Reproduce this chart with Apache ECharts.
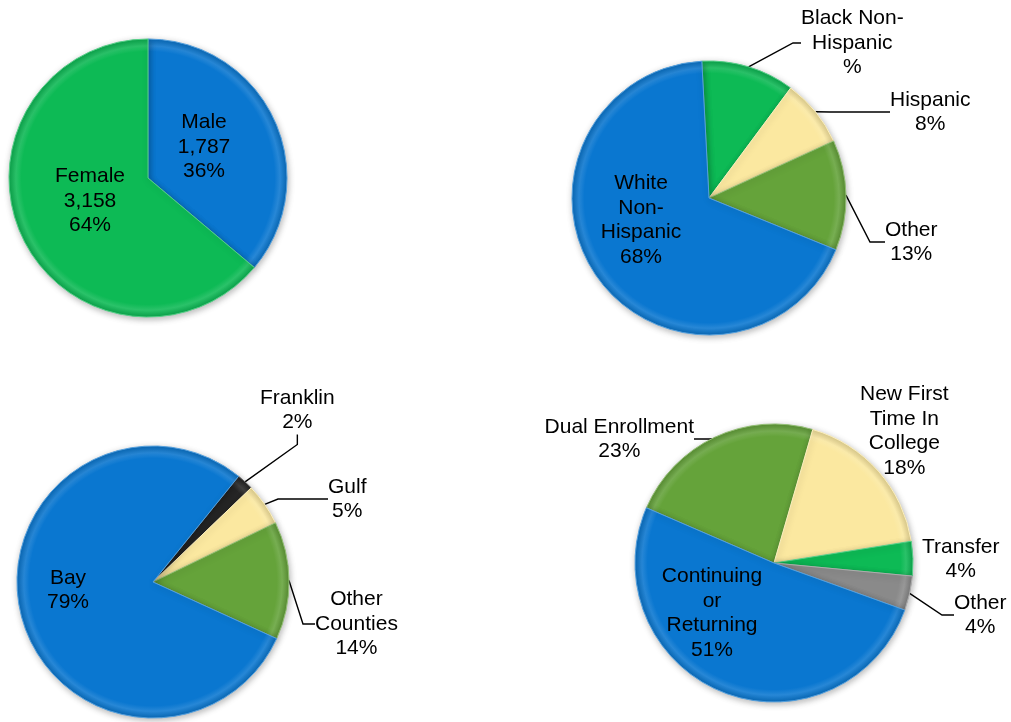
<!DOCTYPE html>
<html>
<head>
<meta charset="utf-8">
<script src="https://cdn.jsdelivr.net/npm/echarts@6/dist/echarts.min.js"></script>
<style>
    html, body { margin: 0; padding: 0; background: #fff; }
    #chart { width: 1011px; height: 722px; }
</style>
</head>
<body>
<div id="chart"></div>
<script>
// gender headcount
const genderLabels = ['Male', 'Female'];
const genderCounts = [1787, 3158];
const genderPct = ['36%', '64%'];

// ethnicity (the black slice label shows no number in the source)
const ethnicLabels = ['Black Non-\nHispanic', 'Hispanic', 'Other', 'White\nNon-\nHispanic'];
const ethnicValues = [11, 8, 13, 68];
const ethnicPct = ['%', '8%', '13%', '68%'];

// county
const countyLabels = ['Franklin', 'Gulf', 'Other\nCounties', 'Bay'];
const countyValues = [2, 5, 14, 79];
const countyPct = ['2%', '5%', '14%', '79%'];

// student type
const typeLabels = ['Dual Enrollment', 'New First\nTime In\nCollege', 'Transfer', 'Other', 'Continuing\nor\nReturning'];
const typeValues = [23, 18, 4, 4, 51];
const typePct = ['23%', '18%', '4%', '4%', '51%'];

const BLUE = '#0a77d0';
const GREEN = '#0dba55';
const YELLOW = '#fbe8a0';
const OLIVE = '#65a33a';
const BLACK = '#262626';
const GRAY = '#8a8a8a';

function shade(hex, f) {
    const n = parseInt(hex.slice(1), 16);
    let rgb = [(n >> 16) & 255, (n >> 8) & 255, n & 255];
    rgb = rgb.map(v => f < 0 ? Math.round(v * (1 + f)) : Math.round(v + (255 - v) * f));
    return 'rgb(' + rgb.join(',') + ')';
}

function richText(lines) {
    return lines.join('\n').split('\n').map(s => '{c|' + s + '}').join('\n');
}

const chartDom = document.getElementById('chart');
const myChart = echarts.init(chartDom, null, { renderer: 'canvas' });

// layout of the four pies and where their labels sit (offset from pie centre)
const pies = [
    {
        center: [148, 178], radius: 139, startAngle: 90,
        labels: genderLabels, values: genderCounts, colors: [BLUE, GREEN],
        text: (i) => richText([genderLabels[i], genderCounts[i].toLocaleString('en-US'), genderPct[i]]),
        inside: [true, true],
        spots: [[56, -31], [-58, 23]],
        length2: [0, 0]
    },
    {
        center: [709, 198], radius: 137, startAngle: 93,
        labels: ethnicLabels, values: ethnicValues, colors: [GREEN, YELLOW, OLIVE, BLUE],
        text: (i) => richText([ethnicLabels[i], ethnicPct[i]]),
        inside: [false, false, false, true],
        spots: [[92, -155], [181, -86], [176, 44], [-68, 22]],
        length2: [8, 60, 15, 0]
    },
    {
        center: [153, 582], radius: 136, startAngle: 51,
        labels: countyLabels, values: countyValues, colors: [BLACK, YELLOW, OLIVE, BLUE],
        text: (i) => richText([countyLabels[i], countyPct[i]]),
        inside: [false, false, false, true],
        spots: [[107, -172], [175, -83], [162, 42], [-85, 8]],
        length2: [10, 50, 12, 0]
    },
    {
        center: [774, 563], radius: 139, startAngle: 156.6,
        labels: typeLabels, values: typeValues, colors: [OLIVE, YELLOW, GREEN, GRAY, BLUE],
        text: (i) => richText([typeLabels[i], typePct[i]]),
        inside: [false, false, false, false, true],
        noLine: [false, true, true, false, false],
        spots: [[-80, -124], [86, -132], [148, -4], [180, 52], [-62, 50]],
        length2: [40, 0, 0, 12, 0]
    }
];

const series = pies.map((p) => {
    const [cx, cy] = p.center;
    return {
        type: 'pie',
        center: p.center,
        radius: p.radius,
        startAngle: p.startAngle,
        clockwise: true,
        avoidLabelOverlap: false,
        animation: false,
        silent: true,
        label: {
            show: true,
            color: '#000',
            fontFamily: 'Liberation Sans, Arial, sans-serif',
            fontSize: 21,
            lineHeight: 24.5,
            rich: {
                c: { align: 'center', fontFamily: 'Liberation Sans, Arial, sans-serif', fontSize: 21, lineHeight: 24.5, color: '#000' }
            }
        },
        labelLine: {
            show: true,
            length: 10,
            length2: 10,
            lineStyle: { color: '#000', width: 1.4 }
        },
        labelLayout: function (params) {
            const s = p.spots[params.dataIndex];
            return { x: cx + s[0], y: cy + s[1] };
        },
        data: p.values.map((v, i) => {
            const base = p.colors[i];
            const inside = p.inside[i];
            const hideLine = inside || (p.noLine && p.noLine[i]);
            return {
                name: p.labels[i],
                value: v,
                label: {
                    position: inside ? 'inside' : 'outside',
                    formatter: p.text(i)
                },
                labelLine: { show: !hideLine, length2: p.length2[i] || 10 },
                itemStyle: {
                    color: {
                        type: 'radial', x: cx, y: cy, r: p.radius, global: true,
                        colorStops: [
                            { offset: 0, color: base },
                            { offset: 0.91, color: base },
                            { offset: 0.95, color: shade(base, 0.12) },
                            { offset: 1, color: shade(base, -0.12) }
                        ]
                    },
                    borderColor: shade(base, 0.3),
                    borderWidth: 1,
                    shadowBlur: 6,
                    shadowColor: 'rgba(0,0,0,0.28)',
                    shadowOffsetX: 1,
                    shadowOffsetY: 2
                }
            };
        })
    };
});

myChart.setOption({
    backgroundColor: '#fff',
    animation: false,
    series: series
});
</script>
</body>
</html>
